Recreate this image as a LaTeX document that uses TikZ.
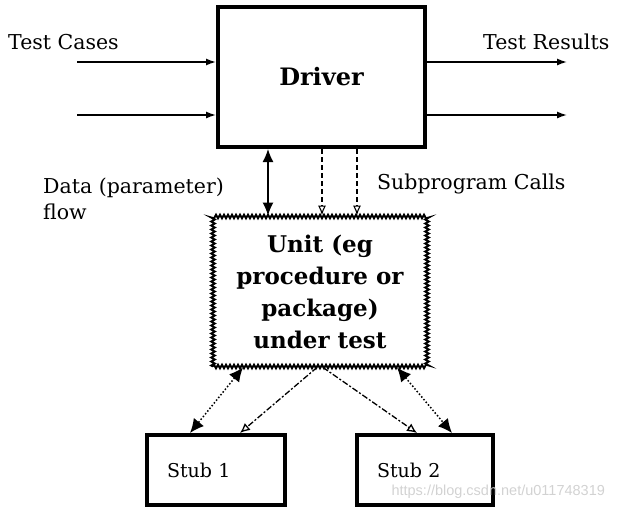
\documentclass[tikz,border=0pt]{standalone}
\usepackage{fontspec}
\setmainfont{DejaVu Serif}
\setsansfont{Liberation Sans}
\usetikzlibrary{arrows.meta,decorations.pathmorphing}

\tikzset{
  labeltext/.style={font=\fontsize{20.5}{26}\selectfont, inner sep=0pt},
  driverbox/.style={draw, line width=4pt, minimum width=207pt, minimum height=140pt,
    font=\bfseries\fontsize{24}{28}\selectfont},
  unitbox/.style={draw, line width=1.9pt, decorate,
    decoration={zigzag, segment length=4pt, amplitude=1.8pt},
    minimum width=214pt, minimum height=150pt, align=center,
    font=\bfseries\fontsize{23}{32}\selectfont},
  stubbox/.style={draw, line width=4pt, minimum height=70pt, inner xsep=20pt,
    align=left, font=\fontsize{19}{22}\selectfont},
  flowline/.style={line width=1.4pt, -{Latex[length=10pt,width=7pt]}},
  dataflow/.style={line width=1.4pt, {Latex[length=13pt,width=11pt]}-{Latex[length=13pt,width=11pt]}},
  callline/.style={line width=1.1pt, dash pattern=on 5pt off 3pt, -{Latex[open,length=10pt,width=8pt]}},
  stubdata/.style={line width=1.5pt, dotted, {Latex[length=14pt,width=13pt]}-{Latex[length=14pt,width=13pt]}},
  stubcall/.style={line width=1.3pt, dash pattern=on 6pt off 2pt on 2pt off 2pt,
    -{Latex[open,length=10pt,width=9pt]}},
}

\begin{document}
\begin{tikzpicture}[x=1pt, y=-1pt]
    % Fix the canvas to the size of the image
    \useasboundingbox (0,0) rectangle (630,512);

    % Draw the blocks
    \node[driverbox] (driver) at (321.5,77) {Driver};
    \node[unitbox] (unit) at (320,291.5) {Unit (eg\\procedure or\\package)\\under test};
    \node[stubbox, text width=98pt] (stub1) at (216,470) {Stub 1};
    \node[stubbox, text width=96pt] (stub2) at (425,470) {Stub 2};

    % Draw the labels
    \node[labeltext, anchor=west] (cases) at (8,42) {Test Cases};
    \node[labeltext, anchor=west] (results) at (483,42) {Test Results};
    \node[labeltext, anchor=west, align=left] (data) at (43,199) {Data (parameter)\\flow};
    \node[labeltext, anchor=west] (calls) at (377,184) {Subprogram Calls};

    % Free ends of the lines
    \coordinate (in1) at (77,62);
    \coordinate (in2) at (77,115);
    \coordinate (out1) at (567,62);
    \coordinate (out2) at (567,115);
    \coordinate (dflow) at (268,0);
    \coordinate (call1) at (322,0);
    \coordinate (call2) at (357,0);

    % Test cases in, test results out
    \draw[flowline] (in1) -- (in1 -| driver.west);
    \draw[flowline] (in2) -- (in2 -| driver.west);
    \draw[flowline] (driver.east |- out1) -- (out1);
    \draw[flowline] (driver.east |- out2) -- (out2);

    % Driver to unit
    \draw[dataflow] (driver.south -| dflow) -- (unit.north -| dflow);
    \draw[callline] (driver.south -| call1) -- (unit.north -| call1);
    \draw[callline] (driver.south -| call2) -- (unit.north -| call2);

    % Unit to stubs
    \draw[stubdata] ([xshift=-77pt]unit.south) -- ([xshift=-26pt]stub1.north);
    \draw[stubcall] ([xshift=-3pt]unit.south) -- ([xshift=24pt]stub1.north);
    \draw[stubcall] ([xshift=3pt]unit.south) -- ([xshift=-8pt]stub2.north);
    \draw[stubdata] ([xshift=77pt]unit.south) -- ([xshift=27pt]stub2.north);

    % Watermark
    \node[anchor=west, text=gray!35, font=\sffamily\fontsize{14.5}{16}\selectfont] (mark)
      at (388,492) {https://blog.csdn.net/u011748319};
\end{tikzpicture}
\end{document}
